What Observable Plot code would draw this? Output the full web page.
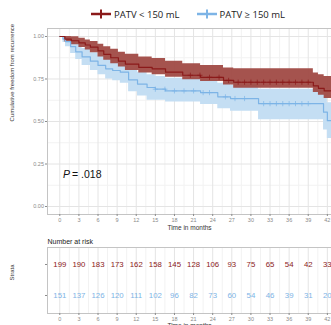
<!DOCTYPE html>
<html><head><meta charset="utf-8">
<script src="https://cdn.jsdelivr.net/npm/d3@7"></script>
<script src="https://cdn.jsdelivr.net/npm/@observablehq/plot@0.6"></script>
<style>
body{margin:0;background:#fff;}
#wrap{position:relative;width:331px;height:325px;overflow:hidden;font-family:"Liberation Sans",Arial,sans-serif;}
#legend{position:absolute;top:0;left:0;width:331px;height:28px;box-sizing:border-box;padding-left:45px;display:flex;justify-content:center;align-items:center;gap:17px;font-family:"Open Sans",sans-serif;font-size:9.5px;color:#222;}
.item{display:flex;align-items:center;gap:3px;}
#main{position:absolute;top:0;left:0;}
#risk{position:absolute;top:236px;left:0;}
</style></head><body><div id="wrap"><div id="legend"></div><div id="main"></div><div id="risk"></div></div>
<script>
// ---- data ----
const groups = ["PATV < 150 mL", "PATV \u2265 150 mL"];
const groupColors = ["#8b1a1a", "#7db4e6"];
const bandColors = ["#a04a44", "#c4def3"];

const timeTicks = [0, 3, 6, 9, 12, 15, 18, 21, 24, 27, 30, 33, 36, 39, 42];
const survTicks = [0, 0.25, 0.5, 0.75, 1];

// PATV < 150 mL
const redTime  = [0, 0.8, 1.8, 3, 4, 4.8, 6, 6.9, 8, 9.2, 10.3, 12.4, 14.5, 16.6, 19.3, 22.1, 25.7, 27.3, 39.8, 40.6, 41.5, 43];
const redSurv  = [1, 0.985, 0.975, 0.962, 0.95, 0.937, 0.915, 0.895, 0.875, 0.855, 0.838, 0.818, 0.81, 0.79, 0.772, 0.76, 0.742, 0.731, 0.71, 0.695, 0.68, 0.68];
const redUpper = [1, 1, 0.998, 0.99, 0.98, 0.97, 0.955, 0.94, 0.925, 0.907, 0.895, 0.88, 0.87, 0.855, 0.84, 0.83, 0.815, 0.81, 0.785, 0.775, 0.765, 0.765];
const redLower = [1, 0.968, 0.952, 0.935, 0.92, 0.905, 0.88, 0.86, 0.84, 0.82, 0.80, 0.785, 0.775, 0.76, 0.745, 0.735, 0.715, 0.695, 0.67, 0.655, 0.635, 0.635];
const redCensor = [20.5, 22, 23.5, 25, 26.5, 28, 29, 30, 31, 32, 33, 34, 35, 36, 37, 38, 39];

// PATV >= 150 mL
const blueTime  = [0, 0.5, 0.9, 1.7, 2.5, 3.5, 4.8, 6, 7.2, 8.3, 9.5, 10.8, 12.2, 13.7, 15, 16.6, 22.1, 24.8, 26.8, 31.2, 41.4, 42, 43];
const blueSurv  = [1, 0.985, 0.97, 0.94, 0.91, 0.88, 0.855, 0.83, 0.81, 0.80, 0.79, 0.745, 0.72, 0.70, 0.69, 0.68, 0.67, 0.645, 0.635, 0.605, 0.555, 0.505, 0.505];
const blueUpper = [1, 1, 0.995, 0.975, 0.955, 0.93, 0.905, 0.885, 0.87, 0.86, 0.85, 0.81, 0.79, 0.775, 0.765, 0.755, 0.745, 0.725, 0.715, 0.69, 0.66, 0.61, 0.61];
const blueLower = [1, 0.965, 0.94, 0.90, 0.865, 0.83, 0.80, 0.775, 0.75, 0.74, 0.725, 0.675, 0.65, 0.625, 0.625, 0.615, 0.60, 0.575, 0.56, 0.51, 0.45, 0.40, 0.40];
const blueCensor = [15, 16.5, 18, 19.5, 21, 22.5, 23.5, 26, 27.5, 29, 32, 33, 34, 35, 36, 37, 38, 39];

const riskRed  = [199, 190, 183, 173, 162, 158, 145, 128, 106, 93, 75, 65, 54, 42, 33];
const riskBlue = [151, 137, 126, 120, 111, 102, 96, 82, 73, 60, 54, 46, 39, 31, 20];

const pText = ".018";

// ---- build tables ----
const rows = (t, s, u, l) => t.map((d, i) => ({t: d, s: s[i], upper: u[i], lower: l[i]}));
const redRows = rows(redTime, redSurv, redUpper, redLower);
const blueRows = rows(blueTime, blueSurv, blueUpper, blueLower);
function stepAt(times, vals, t) { let v = vals[0]; for (let i = 0; i < times.length; i++) if (times[i] <= t) v = vals[i]; return v; }
const censorRows = [
  ...redCensor.map(t => ({t, s: stepAt(redTime, redSurv, t), g: 0})),
  ...blueCensor.map(t => ({t, s: stepAt(blueTime, blueSurv, t), g: 1}))
];
const riskRows = [
  ...riskRed.map((n, i) => ({t: timeTicks[i], row: 2, n, g: 0})),
  ...riskBlue.map((n, i) => ({t: timeTicks[i], row: 1, n, g: 1}))
];
const minorX = timeTicks.map(d => d + 1.5);
const minorY = [0.125, 0.375, 0.625, 0.875];
const xDomain = [-1.93, 42.65];
const font = "Liberation Sans, Arial, sans-serif";

// ---- legend ----
const legend = d3.select("#legend");
groups.forEach((g, i) => {
  const it = legend.append("div").attr("class", "item");
  const svg = it.append("svg").attr("width", 20).attr("height", 10);
  svg.append("line").attr("x1", 0).attr("x2", 20).attr("y1", 5).attr("y2", 5).attr("stroke", groupColors[i]).attr("stroke-width", 2.5);
  svg.append("line").attr("x1", 10).attr("x2", 10).attr("y1", 0.5).attr("y2", 9.5).attr("stroke", groupColors[i]).attr("stroke-width", 2);
  it.append("span").text(g);
});

// ---- main plot ----
const main = Plot.plot({
  width: 331, height: 236,
  marginTop: 28, marginBottom: 22, marginLeft: 47, marginRight: 0,
  style: {background: "transparent", fontFamily: font},
  x: {domain: xDomain},
  y: {domain: [-0.047, 1.047]},
  marks: [
    Plot.gridX(minorX, {stroke: "#f2f2f2", strokeOpacity: 1}),
    Plot.gridY(minorY, {stroke: "#f2f2f2", strokeOpacity: 1}),
    Plot.gridX(timeTicks, {stroke: "#e4e4e4", strokeOpacity: 1}),
    Plot.gridY(survTicks, {stroke: "#e4e4e4", strokeOpacity: 1}),
    Plot.areaY(blueRows, {x: "t", y1: "lower", y2: "upper", curve: "step-after", fill: bandColors[1], clip: true}),
    Plot.areaY(redRows, {x: "t", y1: "lower", y2: "upper", curve: "step-after", fill: bandColors[0], fillOpacity: 0.95, clip: true}),
    Plot.line(blueRows, {x: "t", y: "s", curve: "step-after", stroke: groupColors[1], strokeWidth: 1.2, clip: true}),
    Plot.line(redRows, {x: "t", y: "s", curve: "step-after", stroke: groupColors[0], strokeWidth: 1.2, clip: true}),
    Plot.dot(censorRows, {x: "t", y: "s", symbol: "plus", r: 1.8, stroke: d => groupColors[d.g], strokeWidth: 0.7}),
    Plot.text(["P"], {x: 0.5, y: 0.19, text: d => d, textAnchor: "start", fontSize: 10.5, fontStyle: "italic", fill: "#111"}),
    Plot.text(["= " + pText], {x: 0.5, y: 0.19, text: d => d, textAnchor: "start", dx: 9, fontSize: 10.5, fill: "#111"}),
    Plot.frame({stroke: "#c4c4c4"}),
    Plot.axisX(timeTicks, {tickSize: 2, tickPadding: 1.5, fontSize: 5.5, color: "#8a8a8a", label: null}),
    Plot.axisY(survTicks, {tickSize: 2, tickPadding: 1.5, fontSize: 5.5, color: "#8a8a8a", tickFormat: d3.format(".2f"), label: null}),
    Plot.text(["Time in months"], {frameAnchor: "bottom", dy: 15, fontSize: 6.5, fill: "#333"}),
    Plot.text(["Cumulative freedom from recurrence"], {frameAnchor: "left", dx: -35, rotate: -90, fontSize: 6, fill: "#333"})
  ]
});
document.getElementById("main").appendChild(main);

// ---- risk table ----
const risk = Plot.plot({
  width: 331, height: 89,
  marginTop: 11, marginBottom: 12, marginLeft: 47, marginRight: 0,
  style: {background: "transparent", fontFamily: font},
  x: {domain: xDomain},
  y: {domain: [0.419, 2.548]},
  marks: [
    Plot.gridX(minorX, {stroke: "#f2f2f2", strokeOpacity: 1}),
    Plot.gridX(timeTicks, {stroke: "#e4e4e4", strokeOpacity: 1}),
    Plot.text(riskRows, {x: "t", y: "row", text: "n", fill: d => groupColors[d.g], fontSize: 7.8}),
    Plot.frame({stroke: "#c4c4c4"}),
    Plot.axisX(timeTicks, {tickSize: 2, tickPadding: 1.5, fontSize: 5.5, color: "#8a8a8a", label: null}),
    Plot.axisY([1, 2], {tickSize: 2, tickFormat: () => "", color: "#8a8a8a", label: null}),
    Plot.text(["Number at risk"], {frameAnchor: "top-left", dy: -8, fontSize: 7, fill: "#222"}),
    Plot.text(["Strata"], {frameAnchor: "left", dx: -35, rotate: -90, fontSize: 6, fill: "#333"}),
    Plot.text(["Time in months"], {frameAnchor: "bottom", dy: 14.5, fontSize: 6.5, fill: "#333"})
  ]
});
document.getElementById("risk").appendChild(risk);
</script></body></html>
